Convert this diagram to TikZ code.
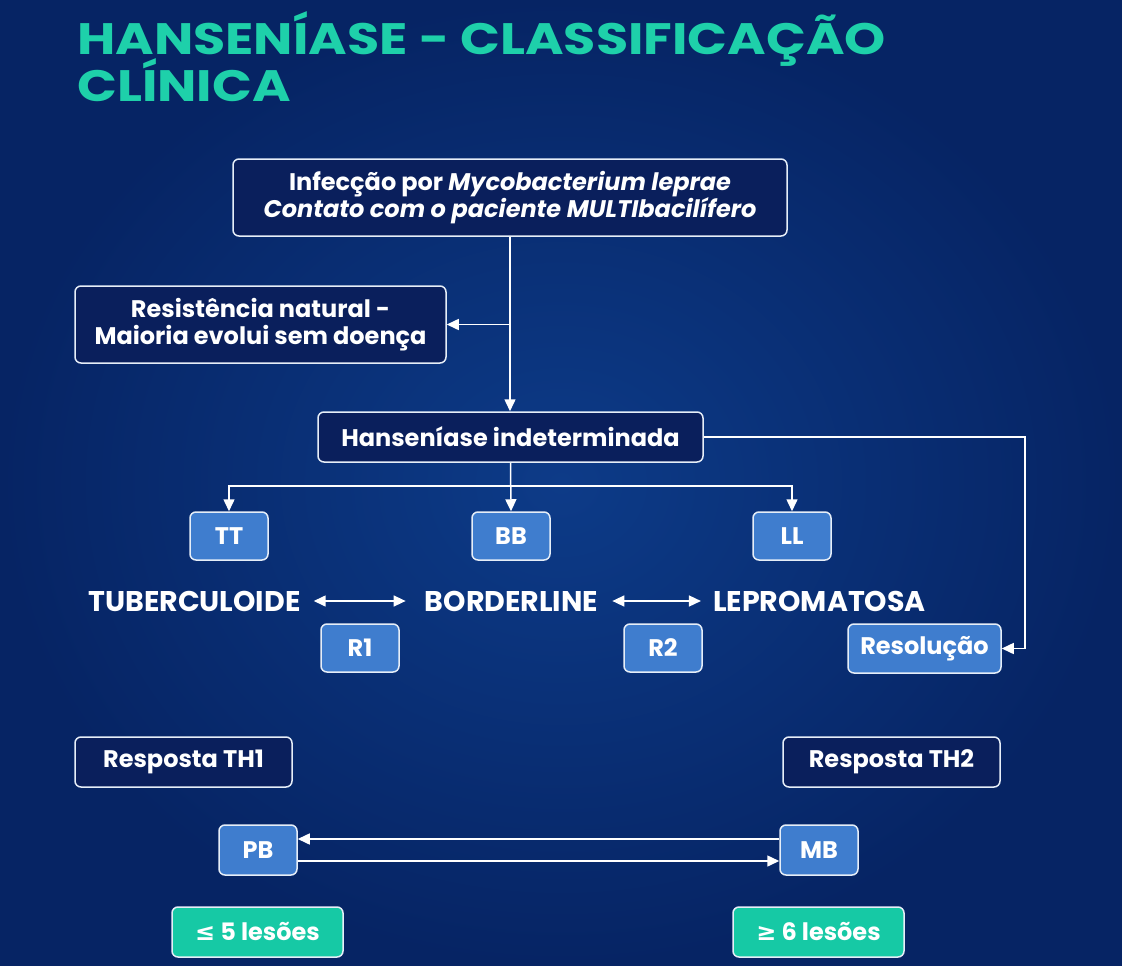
\documentclass[tikz,border=0pt]{standalone}
\usepackage{fontspec}
\setmainfont{Poppins}
\newfontfamily\symf{DejaVu Sans}
\usetikzlibrary{arrows.meta}
\definecolor{bgOut}{HTML}{062464}
\definecolor{bgIn}{HTML}{0D3B88}
\definecolor{dkbox}{HTML}{0A1F5C}
\definecolor{bluebx}{HTML}{3F7DCE}
\definecolor{tealbx}{HTML}{16C9A5}
\definecolor{titlec}{HTML}{1ED0AA}
\definecolor{edge}{HTML}{E6EEF8}
\begin{document}
\begin{tikzpicture}[x=1pt,y=-1pt,
  boxbase/.style={draw=edge, line width=1.5pt, rounded corners=6pt, text=white, align=center, inner sep=0pt, font=\bfseries\fontsize{24}{27}\selectfont},
  darkbox/.style={boxbase, fill=dkbox},
  bluebox/.style={boxbase, fill=bluebx},
  tealbox/.style={boxbase, fill=tealbx},
  lab/.style={text=white, inner sep=0pt, font=\bfseries\fontsize{28.5}{30}\selectfont},
  ttl/.style={anchor=base west, text=titlec, inner sep=0pt, font=\bfseries\fontsize{44}{48}\selectfont},
  conn/.style={draw=white, line width=1.5pt},
  arr/.style={conn, -{Triangle[width=11pt,length=12pt]}},
  darr/.style={conn, {Triangle[width=11pt,length=12pt]}-{Triangle[width=11pt,length=12pt]}}]
\useasboundingbox (0,0) rectangle (1122,966);
\shade[inner color=bgIn, outer color=bgOut] (0,0) rectangle (1122,966);

\node[ttl] (title1) at (77,55) {\scalebox{1.19}[1]{HANSENÍASE - CLASSIFICAÇÃO}};
\node[ttl] (title2) at (77,102) {\scalebox{1.19}[1]{CLÍNICA}};

\node[darkbox, minimum width=554, minimum height=77] (inf) at (510,197.5)
  {Infecção por \textit{Mycobacterium leprae}\\\textit{Contato com o paciente MULTIbacilífero}};
\node[darkbox, minimum width=371, minimum height=77] (res) at (260.5,324.5)
  {Resistência natural -\\Maioria evolui sem doença};
\node[darkbox, minimum width=385, minimum height=50] (hi) at (510.5,437)
  {Hanseníase indeterminada};

\node[bluebox, minimum width=78, minimum height=48] (tt) at (229,536) {TT};
\node[bluebox, minimum width=78, minimum height=48] (bb) at (511,536) {BB};
\node[bluebox, minimum width=78, minimum height=48] (ll) at (792,536) {LL};

\node[lab] (tub) at (194.5,601) {TUBERCULOIDE};
\node[lab] (bord) at (511.5,601) {BORDERLINE};
\node[lab] (lep) at (819.5,601) {LEPROMATOSA};

\node[bluebox, minimum width=78, minimum height=48] (r1) at (360,648) {R1};
\node[bluebox, minimum width=78, minimum height=48] (r2) at (663,648) {R2};
\node[bluebox, minimum width=153, minimum height=49] (resol) at (924.5,648.5) {Resolução};

\node[darkbox, minimum width=217, minimum height=50] (th1) at (183.5,762) {Resposta TH1};
\node[darkbox, minimum width=217, minimum height=50] (th2) at (891.5,762) {Resposta TH2};

\node[bluebox, minimum width=78, minimum height=50] (pb) at (258,850) {PB};
\node[bluebox, minimum width=78, minimum height=50] (mb) at (819,850) {MB};

\node[tealbox, minimum width=171, minimum height=50] (l5) at (257.5,932) {{\symf\bfseries ≤} 5 lesões};
\node[tealbox, minimum width=171, minimum height=50] (l6) at (818.5,932) {{\symf\bfseries ≥} 6 lesões};

% connectors
\draw[arr] (inf.south) -- (inf.south |- hi.north);
\coordinate (j1) at (inf.south |- res.east);
\draw[arr] (j1) -- (res.east);
\coordinate (rc) at (1025,437);
\draw[arr] (hi.east) -- (rc) |- (resol.east);
\coordinate (br) at (511,486);
\draw[arr] (hi.south) -- (bb.north);
\draw[arr] (br) -| (tt.north);
\draw[arr] (br) -| (ll.north);
\draw[darr] ([xshift=13pt]tub.east) -- ([xshift=-19pt]bord.west);
\draw[darr] ([xshift=14pt]bord.east) -- ([xshift=-12pt]lep.west);
\draw[arr] ([yshift=11pt]mb.west) -- ([yshift=11pt]pb.east);
\draw[arr] ([yshift=-11pt]pb.east) -- ([yshift=-11pt]mb.west);
\end{tikzpicture}
\end{document}
